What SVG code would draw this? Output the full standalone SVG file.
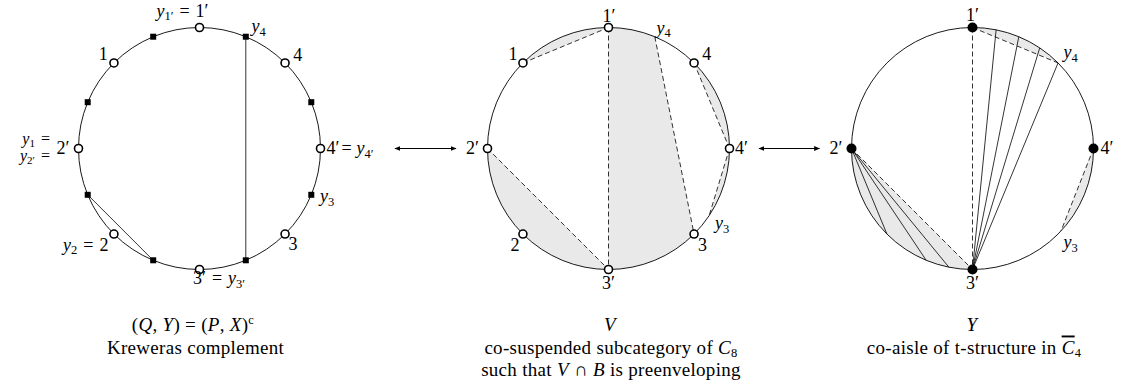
<svg xmlns="http://www.w3.org/2000/svg" width="1121" height="380" viewBox="0 0 1121 380">
<style>
  text { font-family: "Liberation Serif", "Times New Roman", serif; font-size: 18px; fill: #000; }
  .cap { font-size: 19px; text-anchor: middle; letter-spacing: 0.3px; }
  .it { font-style: italic; }
  .sub { font-size: 12.5px; }
  .tight { font-size: 16px; }
  .tight .sub { font-size: 11px; }
  .rim { fill: none; stroke: #000; stroke-width: 0.9; }
  .shade { fill: #e9e9e9; stroke: none; }
  .solid { stroke: #000; stroke-width: 0.8; fill: none; }
  .dash { stroke: #000; stroke-width: 0.8; fill: none; stroke-dasharray: 5 3; }
  .open { fill: #fff; stroke: #000; stroke-width: 1.6; }
  .dot { fill: #000; }
  .sq { fill: #000; }
  .arr { stroke: #000; stroke-width: 1; marker-start: url(#ah); marker-end: url(#ah); }
</style>
<defs>
  <marker id="ah" viewBox="0 0 10 10" refX="9" refY="5" markerWidth="6" markerHeight="6" orient="auto-start-reverse" markerUnits="userSpaceOnUse">
    <path d="M0,1 L10,5 L0,9 Z" fill="#000"/>
  </marker>
</defs>

<!-- LEFT DISK: Kreweras complement -->
<g id="diskLeft">
  <circle class="rim" cx="199.5" cy="148.5" r="121"/>
</g>
<g id="connectorsLeft">
  <line class="solid" x1="245.8" y1="36.71" x2="245.8" y2="260.29"/>
  <line class="solid" x1="87.71" y1="194.8" x2="153.2" y2="260.29"/>
</g>
<g id="nodesLeft">
  <g id="L-1p"><circle class="open" cx="199.5" cy="27.5" r="4"/></g>
  <g id="L-y4"><rect class="sq" x="242.8" y="33.71" width="6" height="6"/></g>
  <g id="L-4"><circle class="open" cx="285.06" cy="62.94" r="4"/></g>
  <g id="L-s67"><rect class="sq" x="308.29" y="99.2" width="6" height="6"/></g>
  <g id="L-4p"><circle class="open" cx="320.5" cy="148.5" r="4"/></g>
  <g id="L-y3"><rect class="sq" x="308.29" y="191.8" width="6" height="6"/></g>
  <g id="L-3"><circle class="open" cx="285.06" cy="234.06" r="4"/></g>
  <g id="L-s157"><rect class="sq" x="242.8" y="257.29" width="6" height="6"/></g>
  <g id="L-3p"><circle class="open" cx="199.5" cy="269.5" r="4"/></g>
  <g id="L-s202"><rect class="sq" x="150.2" y="257.29" width="6" height="6"/></g>
  <g id="L-2"><circle class="open" cx="113.94" cy="234.06" r="4"/></g>
  <g id="L-s247"><rect class="sq" x="84.71" y="191.8" width="6" height="6"/></g>
  <g id="L-2p"><circle class="open" cx="78.5" cy="148.5" r="4"/></g>
  <g id="L-s292"><rect class="sq" x="84.71" y="99.2" width="6" height="6"/></g>
  <g id="L-1"><circle class="open" cx="113.94" cy="62.94" r="4"/></g>
  <g id="L-s337"><rect class="sq" x="150.2" y="33.71" width="6" height="6"/></g>
</g>
<g id="labelsLeft">
  <text x="208.5" y="16.5" text-anchor="end"><tspan class="it">y</tspan><tspan class="sub" dy="3.5">1′</tspan><tspan dy="-3.5" dx="6">=</tspan><tspan dx="6">1′</tspan></text>
  <text x="103.3" y="60" text-anchor="middle">1</text>
  <text x="251.5" y="32"><tspan class="it">y</tspan><tspan class="sub" dy="3.5">4</tspan></text>
  <text x="297.7" y="60.5" text-anchor="middle">4</text>
  <text class="tight" x="50" y="144" text-anchor="end"><tspan class="it">y</tspan><tspan class="sub" dy="3">1</tspan><tspan dy="-3" dx="6">=</tspan></text>
  <text class="tight" x="50" y="161" text-anchor="end"><tspan class="it">y</tspan><tspan class="sub" dy="3">2′</tspan><tspan dy="-3" dx="6">=</tspan></text>
  <text x="69.5" y="153.5" text-anchor="end">2′</text>
  <text x="326.5" y="154">4′<tspan dx="2">=</tspan><tspan class="it" dx="5">y</tspan><tspan class="sub" dy="3.5">4′</tspan></text>
  <text x="320" y="202"><tspan class="it">y</tspan><tspan class="sub" dy="3.5">3</tspan></text>
  <text x="293" y="250" text-anchor="middle">3</text>
  <text x="108.5" y="250.5" text-anchor="end"><tspan class="it">y</tspan><tspan class="sub" dy="3.5">2</tspan><tspan dy="-3.5" dx="6">=</tspan><tspan dx="6">2</tspan></text>
  <text x="193" y="284">3′<tspan dx="6">=</tspan><tspan class="it" dx="6">y</tspan><tspan class="sub" dy="3.5">3′</tspan></text>
</g>

<!-- MIDDLE DISK -->
<g id="diskMiddle">
  <path class="shade" d="M522.94,62.94 A121,121 0 0 1 608.5,27.5 Z"/>
  <path class="shade" d="M608.5,27.5 A121,121 0 0 1 654.8,36.71 L694.06,234.06 A121,121 0 0 1 608.5,269.5 Z"/>
  <path class="shade" d="M694.06,62.94 A121,121 0 0 1 729.5,148.5 Z"/>
  <path class="shade" d="M729.5,148.5 A121,121 0 0 1 709.11,215.72 Z"/>
  <path class="shade" d="M608.5,269.5 A121,121 0 0 1 487.5,148.5 Z"/>
  <circle class="rim" cx="608.5" cy="148.5" r="121"/>
</g>
<g id="connectorsMiddle">
  <line class="dash" x1="522.94" y1="62.94" x2="608.5" y2="27.5"/>
  <line class="dash" x1="608.5" y1="27.5" x2="608.5" y2="269.5"/>
  <line class="dash" x1="654.8" y1="36.71" x2="694.06" y2="234.06"/>
  <line class="dash" x1="694.06" y1="62.94" x2="729.5" y2="148.5"/>
  <line class="dash" x1="729.5" y1="148.5" x2="709.11" y2="215.72"/>
  <line class="dash" x1="487.5" y1="148.5" x2="608.5" y2="269.5"/>
</g>
<g id="nodesMiddle">
  <g id="M-1p"><circle class="open" cx="608.5" cy="27.5" r="4"/></g>
  <g id="M-4"><circle class="open" cx="694.06" cy="62.94" r="4"/></g>
  <g id="M-4p"><circle class="open" cx="729.5" cy="148.5" r="4"/></g>
  <g id="M-3"><circle class="open" cx="694.06" cy="234.06" r="4"/></g>
  <g id="M-3p"><circle class="open" cx="608.5" cy="269.5" r="4"/></g>
  <g id="M-2"><circle class="open" cx="522.94" cy="234.06" r="4"/></g>
  <g id="M-2p"><circle class="open" cx="487.5" cy="148.5" r="4"/></g>
  <g id="M-1"><circle class="open" cx="522.94" cy="62.94" r="4"/></g>
</g>
<g id="labelsMiddle">
  <text x="609" y="21.5" text-anchor="middle">1′</text>
  <text x="513" y="60" text-anchor="middle">1</text>
  <text x="656.5" y="33.5"><tspan class="it">y</tspan><tspan class="sub" dy="3.5">4</tspan></text>
  <text x="706.7" y="60" text-anchor="middle">4</text>
  <text x="479" y="154" text-anchor="end">2′</text>
  <text x="735" y="154">4′</text>
  <text x="515" y="250.5" text-anchor="middle">2</text>
  <text x="702.5" y="250.5" text-anchor="middle">3</text>
  <text x="715" y="229"><tspan class="it">y</tspan><tspan class="sub" dy="3.5">3</tspan></text>
  <text x="608.5" y="289" text-anchor="middle">3′</text>
</g>

<!-- RIGHT DISK -->
<g id="diskRight">
  <path class="shade" d="M972.5,27.5 A121,121 0 0 1 1058.06,62.94 Z"/>
  <path class="shade" d="M1093.5,148.5 A121,121 0 0 1 1060.99,231.02 Z"/>
  <path class="shade" d="M972.5,269.5 A121,121 0 0 1 851.5,148.5 Z"/>
  <circle class="rim" cx="972.5" cy="148.5" r="121"/>
</g>
<g id="connectorsRight">
  <line class="dash" x1="972.5" y1="27.5" x2="972.5" y2="269.5"/>
  <line class="dash" x1="972.5" y1="27.5" x2="1058.06" y2="62.94"/>
  <line class="dash" x1="1093.5" y1="148.5" x2="1060.99" y2="231.02"/>
  <line class="dash" x1="851.5" y1="148.5" x2="972.5" y2="269.5"/>
  <line class="solid" x1="972.5" y1="269.5" x2="996.11" y2="29.82"/>
  <line class="solid" x1="972.5" y1="269.5" x2="1018.8" y2="36.71"/>
  <line class="solid" x1="972.5" y1="269.5" x2="1039.72" y2="47.89"/>
  <line class="solid" x1="972.5" y1="269.5" x2="1058.06" y2="62.94"/>
  <line class="solid" x1="851.5" y1="148.5" x2="948.89" y2="267.18"/>
  <line class="solid" x1="851.5" y1="148.5" x2="926.2" y2="260.29"/>
  <line class="solid" x1="851.5" y1="148.5" x2="886.94" y2="234.06"/>
</g>
<g id="nodesRight">
  <g id="R-1p"><circle class="dot" cx="972.5" cy="27.5" r="5"/></g>
  <g id="R-4p"><circle class="dot" cx="1093.5" cy="148.5" r="5"/></g>
  <g id="R-3p"><circle class="dot" cx="972.5" cy="269.5" r="5"/></g>
  <g id="R-2p"><circle class="dot" cx="851.5" cy="148.5" r="5"/></g>
</g>
<g id="labelsRight">
  <text x="972.5" y="21" text-anchor="middle">1′</text>
  <text x="1063.5" y="58"><tspan class="it">y</tspan><tspan class="sub" dy="3.5">4</tspan></text>
  <text x="842.5" y="154" text-anchor="end">2′</text>
  <text x="1100.5" y="154">4′</text>
  <text x="1063.5" y="248"><tspan class="it">y</tspan><tspan class="sub" dy="3.5">3</tspan></text>
  <text x="972.5" y="289" text-anchor="middle">3′</text>
</g>

<!-- ARROWS -->
<g id="arrows">
  <line class="arr" x1="395" y1="148.5" x2="456" y2="148.5"/>
  <line class="arr" x1="759" y1="148.5" x2="819.5" y2="148.5"/>
</g>

<!-- CAPTIONS -->
<g id="captions">
  <text class="cap" x="193" y="331">(<tspan class="it">Q</tspan>, <tspan class="it">Y</tspan>)<tspan dx="5">=</tspan><tspan dx="5">(</tspan><tspan class="it">P</tspan>, <tspan class="it">X</tspan>)<tspan class="sub" dy="-7">c</tspan></text>
  <text class="cap" x="195.5" y="353.5">Kreweras complement</text>
  <text class="cap it" x="610" y="331">V</text>
  <text class="cap" x="611" y="353.5">co-suspended subcategory of <tspan class="it">C</tspan><tspan class="sub" dy="3.5">8</tspan></text>
  <text class="cap" x="611" y="376">such that <tspan class="it">V</tspan> ∩ <tspan class="it">B</tspan> is preenveloping</text>
  <text class="cap it" x="972" y="331">Y</text>
  <text class="cap" x="974" y="353.5">co-aisle of t-structure in <tspan class="it" text-decoration="overline">C</tspan><tspan class="sub" dy="3.5">4</tspan></text>
</g>
</svg>
